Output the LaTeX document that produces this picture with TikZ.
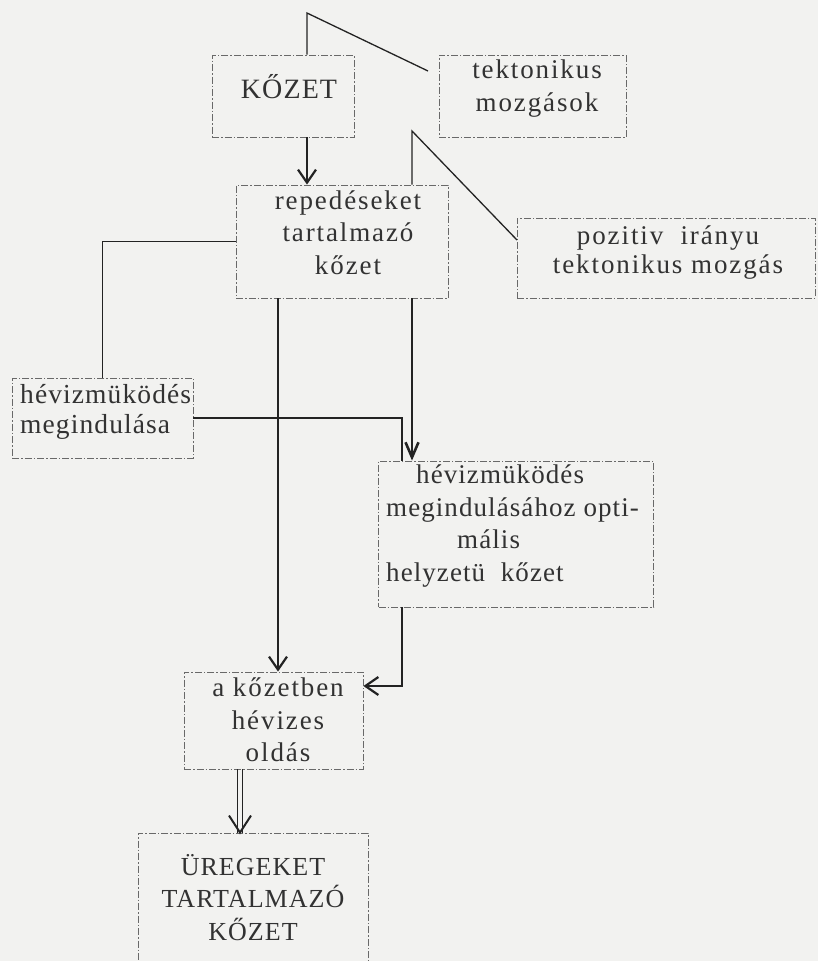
\documentclass[tikz,border=0pt]{standalone}
\usepackage{fontspec}
\setmainfont{Liberation Serif}
\newfontfamily\spfont[LetterSpace=7]{Liberation Serif}
\newfontfamily\capfont[LetterSpace=4]{Liberation Serif}
\newfontfamily\hvfont[LetterSpace=4]{Liberation Serif}
\usetikzlibrary{arrows.meta}
\definecolor{paper}{RGB}{242,242,240}
\definecolor{ink}{RGB}{35,35,35}
\definecolor{boxc}{RGB}{105,105,105}
\definecolor{txt}{RGB}{50,50,50}
\tikzset{
  boxn/.style={draw=boxc, line width=0.9pt, dash pattern=on 7pt off 2pt on 1.5pt off 2pt, inner sep=0pt},
  lbl/.style={text=txt, inner sep=0pt, font=\spfont\fontsize{27}{32.5}\selectfont, align=center},
  caplbl/.style={text=txt, inner sep=0pt, font=\capfont\fontsize{27}{32.5}\selectfont, align=center},
  hvlbl/.style={text=txt, inner sep=0pt, font=\hvfont\fontsize{27.5}{30}\selectfont, align=left, anchor=west},
  conn/.style={draw=ink, line width=1.3pt},
  arr/.style={conn, -{Straight Barb[length=13pt,width=18pt,line width=2.2pt]}},
  arrn/.style={conn, -{Straight Barb[length=15pt,width=13pt,line width=2.6pt]}}
}
\begin{document}
\begin{tikzpicture}[x=1pt,y=-1pt]
\useasboundingbox (0,0) rectangle (818,961);
\clip (0,0) rectangle (818,961);
\fill[paper] (0,0) rectangle (818,961);

% boxes
\node[boxn, minimum width=142pt, minimum height=82pt] (kozet) at (283,96) {};
\node[boxn, minimum width=187pt, minimum height=82pt] (tekt) at (532.5,96) {};
\node[boxn, minimum width=212pt, minimum height=113pt] (rep) at (342,241.5) {};
\node[boxn, minimum width=298pt, minimum height=80pt] (poz) at (666,258) {};
\node[boxn, minimum width=181pt, minimum height=80pt] (hev1) at (102.5,418) {};
\node[boxn, minimum width=275pt, minimum height=146pt] (hev2) at (516,534) {};
\node[boxn, minimum width=179pt, minimum height=97pt] (oldas) at (273.5,720.5) {};
\node[boxn, minimum width=230pt, minimum height=170pt] (ureg) at (253,918) {};

% texts
\node[caplbl, font=\capfont\fontsize{28}{32.5}\selectfont] (kozetT) at (289,87) {KŐZET};
\node[lbl] (tektT) at (537,88.5) {tektonikus\\ mozgások};
\node[lbl] (repT) at (348,232.5) {repedéseket\\ tartalmazó\\ kőzet};
\node[lbl, font=\spfont\fontsize{27}{29}\selectfont] (pozT) at (668,252.5) {pozitiv~ irányu\\ tektonikus mozgás};
\node[hvlbl] (hev1T) at (20,412) {hévizmüködés\\ megindulása};
\node[hvlbl, font=\hvfont\fontsize{27}{32.7}\selectfont] (hev2T) at (386,526)
  {\hspace*{30pt}hévizmüködés\\ megindulásához opti-\\ \hspace*{71pt}mális\\ helyzetü~ kőzet};
\node[lbl] (oldasT) at (278,720) {a kőzetben\\ hévizes\\ oldás};
\node[caplbl, font=\capfont\fontsize{26}{32.5}\selectfont] (uregT) at (253,897.5) {ÜREGEKET\\ TARTALMAZÓ\\ KŐZET};

% helper coordinates
\coordinate (xa) at (307,0);
\coordinate (xb) at (412,0);
\coordinate (xc) at (278,0);
\coordinate (xd) at (402,0);
\coordinate (xe) at (240,0);
\coordinate (top1) at (307,13);
\coordinate (end1) at (428,71);
\coordinate (top2) at (412,131);
\coordinate (end2) at (517,240);
\coordinate (bend3) at (402,686);

% connectors
\draw[conn] (kozet.north -| xa) -- (top1) -- (end1);
\draw[arr] (kozet.south -| xa) -- (rep.north -| xa);
\draw[conn] (rep.north -| xb) -- (top2) -- (end2);
\draw[conn] (rep.west) -| (hev1.north);
\draw[arrn] (rep.south -| xb) -- (hev2.north -| xb);
\draw[conn] (hev1.east) -| (hev2.north -| xd);
\draw[arr] (rep.south -| xc) -- (oldas.north -| xc);
\draw[arr] (hev2.south -| xd) -- (bend3) -- (oldas.east |- bend3);
% double arrow
\draw[conn] ([xshift=-2.5pt]oldas.south -| xe) -- ([xshift=-2.5pt]ureg.north -| xe);
\draw[conn] ([xshift=2.5pt]oldas.south -| xe) -- ([xshift=2.5pt]ureg.north -| xe);
\coordinate (dbl) at (ureg.north -| xe);
\draw[draw=ink, line width=2pt] (dbl) ++(-11,-17) -- (dbl) -- ++(11,-17);
\end{tikzpicture}
\end{document}
